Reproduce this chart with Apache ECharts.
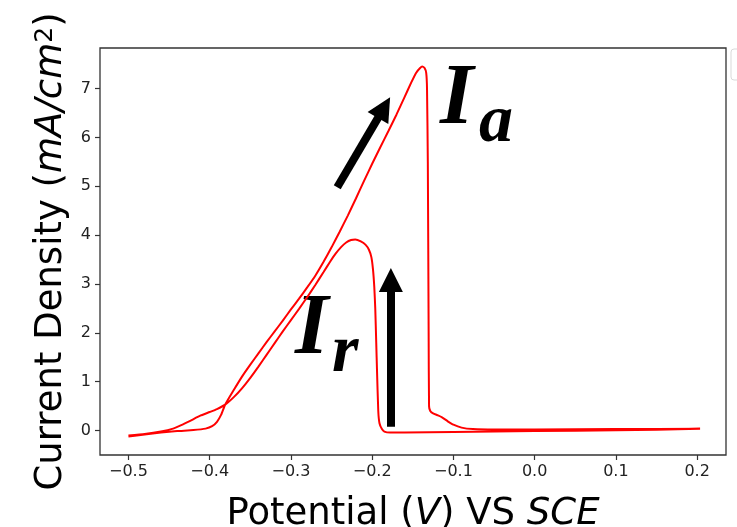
<!DOCTYPE html>
<html>
<head>
<meta charset="utf-8">
<script src="https://cdn.jsdelivr.net/npm/echarts@6/dist/echarts.min.js"></script>
<style>
  html, body { margin: 0; padding: 0; background: #fff; }
  #chart { width: 737px; height: 527px; }
</style>
</head>
<body>
<div id="chart"></div>
<script>
// forward scan (-0.5 V -> 0.2 V), anodic peak Ia
const forwardV = [-0.500, -0.480, -0.460, -0.440, -0.420, -0.405, -0.397, -0.391, -0.386, -0.381,
  -0.370, -0.360, -0.350, -0.340, -0.330, -0.320, -0.310, -0.300, -0.290, -0.280,
  -0.270, -0.260, -0.250, -0.240, -0.230, -0.220, -0.210, -0.200, -0.190, -0.180,
  -0.170, -0.160, -0.152, -0.146, -0.141, -0.1384, -0.1355, -0.1335, -0.1325, -0.1315,
  -0.1305, -0.130, -0.1285, -0.125, -0.119, -0.114, -0.107, -0.100, -0.090, -0.076,
  -0.050, 0.000, 0.100, 0.2036];
const forwardI = [-0.12, -0.08, -0.04, -0.01, 0.01, 0.04, 0.09, 0.18, 0.32, 0.53,
  0.84, 1.11, 1.35, 1.58, 1.81, 2.03, 2.25, 2.48, 2.70, 2.93,
  3.17, 3.45, 3.75, 4.07, 4.40, 4.75, 5.11, 5.46, 5.80, 6.13,
  6.47, 6.83, 7.12, 7.32, 7.42, 7.45, 7.42, 7.32, 7.00, 5.50,
  2.00, 0.50, 0.40, 0.35, 0.31, 0.27, 0.19, 0.12, 0.06, 0.03,
  0.02, 0.02, 0.03, 0.035];

// reverse scan (0.2 V -> -0.5 V), reactivation peak Ir
const reverseV = [0.2036, 0.150, 0.100, 0.000, -0.100, -0.160, -0.178, -0.185, -0.188, -0.191,
  -0.1925, -0.194, -0.195, -0.1962, -0.1974, -0.199, -0.201, -0.204, -0.208, -0.214,
  -0.2208, -0.226, -0.232, -0.238, -0.245, -0.252, -0.260, -0.270, -0.280, -0.290,
  -0.300, -0.310, -0.320, -0.330, -0.340, -0.350, -0.360, -0.370, -0.381, -0.391,
  -0.400, -0.411, -0.424, -0.435, -0.445, -0.460, -0.480, -0.500];
const reverseI = [0.035, 0.015, 0.005, -0.01, -0.03, -0.04, -0.04, -0.02, 0.03, 0.15,
  0.40, 1.20, 1.80, 2.50, 2.94, 3.30, 3.55, 3.70, 3.80, 3.87,
  3.91, 3.90, 3.85, 3.76, 3.62, 3.45, 3.24, 2.98, 2.73, 2.49,
  2.26, 2.03, 1.79, 1.55, 1.31, 1.08, 0.87, 0.69, 0.53, 0.44,
  0.38, 0.31, 0.20, 0.11, 0.04, -0.02, -0.07, -0.10];

const xTicks = [-0.5, -0.4, -0.3, -0.2, -0.1, 0.0, 0.1, 0.2];
const yTicks = [0, 1, 2, 3, 4, 5, 6, 7];

// annotation arrows: [tail, head] in data coordinates
const arrowScan = [[-0.243, 4.98], [-0.1854, 6.61]];
const arrowRev = [[-0.177, 0.08], [-0.177, 3.08]];

const curve = [];
forwardV.forEach((v, i) => curve.push([v, forwardI[i]]));
reverseV.forEach((v, i) => curve.push([v, reverseI[i]]));

function tickText(v, digits) {
  const s = Math.abs(v).toFixed(digits);
  return v < -1e-9 ? '\u2212' + s : s;
}

const chart = echarts.init(document.getElementById('chart'));
const serifBI = 'italic bold {size}px "Liberation Serif", "DejaVu Serif", serif';

chart.setOption({
  animation: false,
  grid: {
    show: true,
    left: 100,
    right: 11,
    top: 48,
    bottom: 72,
    containLabel: false,
    outerBoundsMode: 'none',
    borderColor: '#333',
    borderWidth: 1.3,
    backgroundColor: 'transparent',
  },
  xAxis: {
    type: 'value',
    min: -0.535,
    max: 0.2355,
    axisLine: { show: false, onZero: false },
    splitLine: { show: false },
    axisTick: {
      customValues: xTicks,
      length: 5,
      lineStyle: { color: '#333', width: 1.2 },
    },
    axisLabel: {
      customValues: xTicks,
      margin: 9,
      color: '#222',
      fontSize: 16,
      fontFamily: 'DejaVu Sans',
      formatter: (v) => tickText(v, 1),
    },
    name: 'Potential ({it|V}) VS {it|SCE}',
    nameLocation: 'middle',
    nameGap: 41,
    nameTextStyle: {
      color: '#000',
      fontSize: 37,
      fontFamily: 'DejaVu Sans',
      rich: {
        it: { fontSize: 37, fontStyle: 'italic', fontFamily: 'DejaVu Sans', color: '#000' },
      },
    },
  },
  yAxis: {
    type: 'value',
    min: -0.5,
    max: 7.83,
    axisLine: { show: false, onZero: false },
    splitLine: { show: false },
    axisTick: {
      customValues: yTicks,
      length: 5,
      lineStyle: { color: '#333', width: 1.2 },
    },
    axisLabel: {
      customValues: yTicks,
      margin: 9,
      color: '#222',
      fontSize: 16,
      fontFamily: 'DejaVu Sans',
      formatter: (v) => tickText(v, 0),
    },
    name: 'Current Density ({it|mA/cm}{sup|2})',
    nameLocation: 'middle',
    nameGap: 30,
    nameTextStyle: {
      color: '#000',
      fontSize: 37,
      fontFamily: 'DejaVu Sans',
      rich: {
        it: { fontSize: 37, fontStyle: 'italic', fontFamily: 'DejaVu Sans', color: '#000' },
        sup: { fontSize: 25, fontFamily: 'DejaVu Sans', color: '#000', verticalAlign: 'top', padding: [0, 0, 10, 0] },
      },
    },
  },
  series: [
    {
      type: 'line',
      data: curve,
      showSymbol: false,
      smooth: 0.15,
      lineStyle: { color: '#ff0000', width: 2 },
      markLine: {
        silent: true,
        symbol: ['none', 'triangle'],
        symbolSize: 24,
        label: { show: false },
        lineStyle: { color: '#000', width: 8, type: 'solid' },
        data: [
          [{ coord: arrowScan[0] }, { coord: arrowScan[1] }],
          [{ coord: arrowRev[0] }, { coord: arrowRev[1] }],
        ],
      },
    },
  ],
  graphic: [
    {
      type: 'text',
      style: { text: 'I', x: 440, y: 101, verticalAlign: 'middle', font: serifBI.replace('{size}', 86), fill: '#000' },
    },
    {
      type: 'text',
      style: { text: 'a', x: 479, y: 123, verticalAlign: 'middle', font: serifBI.replace('{size}', 68), fill: '#000' },
    },
    {
      type: 'text',
      style: { text: 'I', x: 295, y: 331, verticalAlign: 'middle', font: serifBI.replace('{size}', 86), fill: '#000' },
    },
    {
      type: 'text',
      style: { text: 'r', x: 332, y: 353, verticalAlign: 'middle', font: serifBI.replace('{size}', 68), fill: '#000' },
    },
    {
      type: 'rect',
      shape: { x: 731, y: 49, width: 20, height: 31, r: 3 },
      style: { fill: '#fff', stroke: '#d9d9d9', lineWidth: 1 },
    },
  ],
});
</script>
</body>
</html>
